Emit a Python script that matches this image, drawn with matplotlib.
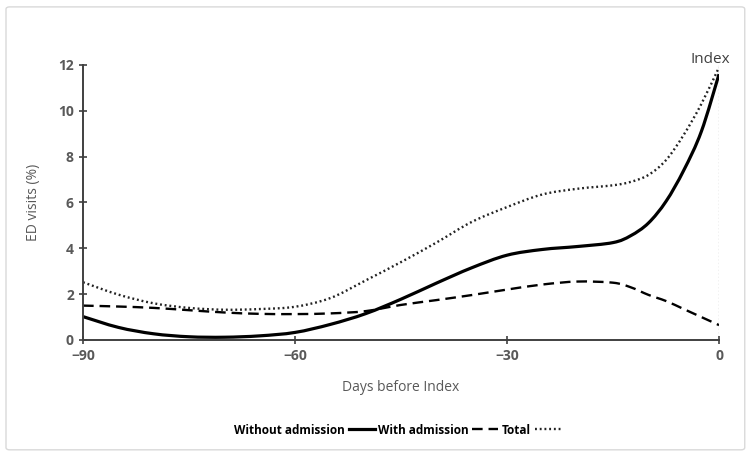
import matplotlib
matplotlib.use("Agg")
import matplotlib.pyplot as plt
from matplotlib.path import Path
from matplotlib.patches import PathPatch, FancyBboxPatch
from matplotlib.lines import Line2D
import numpy as np

plt.rcParams['font.family'] = ['Open Sans', 'DejaVu Sans']

# days before index and percentages
days = [-90, -85, -80, -75, -70, -65, -60, -55, -50, -45, -40, -35, -30,
        -25, -20, -15, -12.5, -10, -7.5, -5, -2.5, 0]
without_adm = [1.02, 0.55, 0.27, 0.14, 0.12, 0.18, 0.33, 0.68, 1.15, 1.78, 2.48,
               3.15, 3.7, 3.95, 4.08, 4.25, 4.55, 5.1, 6.05, 7.4, 9.1, 11.6]
with_adm = [1.5, 1.46, 1.4, 1.3, 1.2, 1.14, 1.13, 1.16, 1.26, 1.53, 1.74,
            1.96, 2.2, 2.42, 2.55, 2.5, 2.3, 1.97, 1.7, 1.35, 1.0, 0.65]
total = [2.52, 1.98, 1.6, 1.4, 1.32, 1.35, 1.45, 1.83, 2.6, 3.4, 4.25,
         5.15, 5.8, 6.35, 6.6, 6.75, 6.9, 7.2, 7.85, 8.95, 10.3, 11.9]

labels = ['Without admission', 'With admission', 'Total']
grey = '#595959'


def smooth_path(x, y):
    # catmull-rom -> bezier, like Excel's smoothed line
    x = np.asarray(x, float)
    y = np.asarray(y, float)
    verts = [(x[0], y[0])]
    codes = [Path.MOVETO]
    n = len(x)
    for i in range(n - 1):
        p0 = np.array([x[max(i - 1, 0)], y[max(i - 1, 0)]])
        p1 = np.array([x[i], y[i]])
        p2 = np.array([x[i + 1], y[i + 1]])
        p3 = np.array([x[min(i + 2, n - 1)], y[min(i + 2, n - 1)]])
        c1 = p1 + (p2 - p0) / 6.0
        c2 = p2 - (p3 - p1) / 6.0
        verts += [tuple(c1), tuple(c2), tuple(p2)]
        codes += [Path.CURVE4] * 3
    return Path(verts, codes)


fig = plt.figure(figsize=(7.5, 4.59), dpi=100)
ax = fig.add_axes([0.1107, 0.2593, 0.848, 0.5991])

styles = [dict(color='black', lw=2.3, linestyle='-'),
          dict(color='black', lw=1.7, linestyle=(0, (4.5, 2.5))),
          dict(color='#222222', lw=1.7, linestyle=(0, (0.8, 1.2)))]

for vals, st in zip([without_adm, with_adm, total], styles):
    ax.add_patch(PathPatch(smooth_path(days, vals), fill=False, capstyle='butt', **st))

ax.axvline(0, color='#bbbbbb', lw=1, linestyle=(0, (1, 1.5)), zorder=0)
ax.text(-1.3, 12.25, 'Index', ha='center', va='center', fontsize=11, color='#404040')

ax.set_xlim(-90, 0)
ax.set_ylim(0, 12)
ax.set_xticks([-90, -60, -30, 0])
ax.set_yticks(range(0, 13, 2))
for s in ['top', 'right']:
    ax.spines[s].set_visible(False)
for s in ['left', 'bottom']:
    ax.spines[s].set_color('#404040')
    ax.spines[s].set_linewidth(1.4)
ax.tick_params(direction='inout', length=6, width=1.2, color='#404040',
               labelcolor=grey, labelsize=10)
for t in ax.get_xticklabels() + ax.get_yticklabels():
    t.set_fontweight('bold')
ax.set_xlabel('Days before Index', color=grey, fontsize=10, labelpad=12)
ax.set_ylabel('ED visits (%)', color=grey, fontsize=10, labelpad=12)

handles = [Line2D([], [], **st) for st in styles]
fig.legend(handles, labels, loc='center', bbox_to_anchor=(0.53, 0.063), ncol=3,
           markerfirst=False, frameon=False, handlelength=2.2, handletextpad=0.3,
           columnspacing=0.3, prop={'weight': 'bold', 'size': 8.5})

fig.patches.append(FancyBboxPatch((0.008, 0.02), 0.985, 0.965,
                                  boxstyle='round,pad=0,rounding_size=0.005',
                                  transform=fig.transFigure, fill=False,
                                  edgecolor='#d9d9d9', lw=1))

fig.savefig('out.png', dpi=100)
